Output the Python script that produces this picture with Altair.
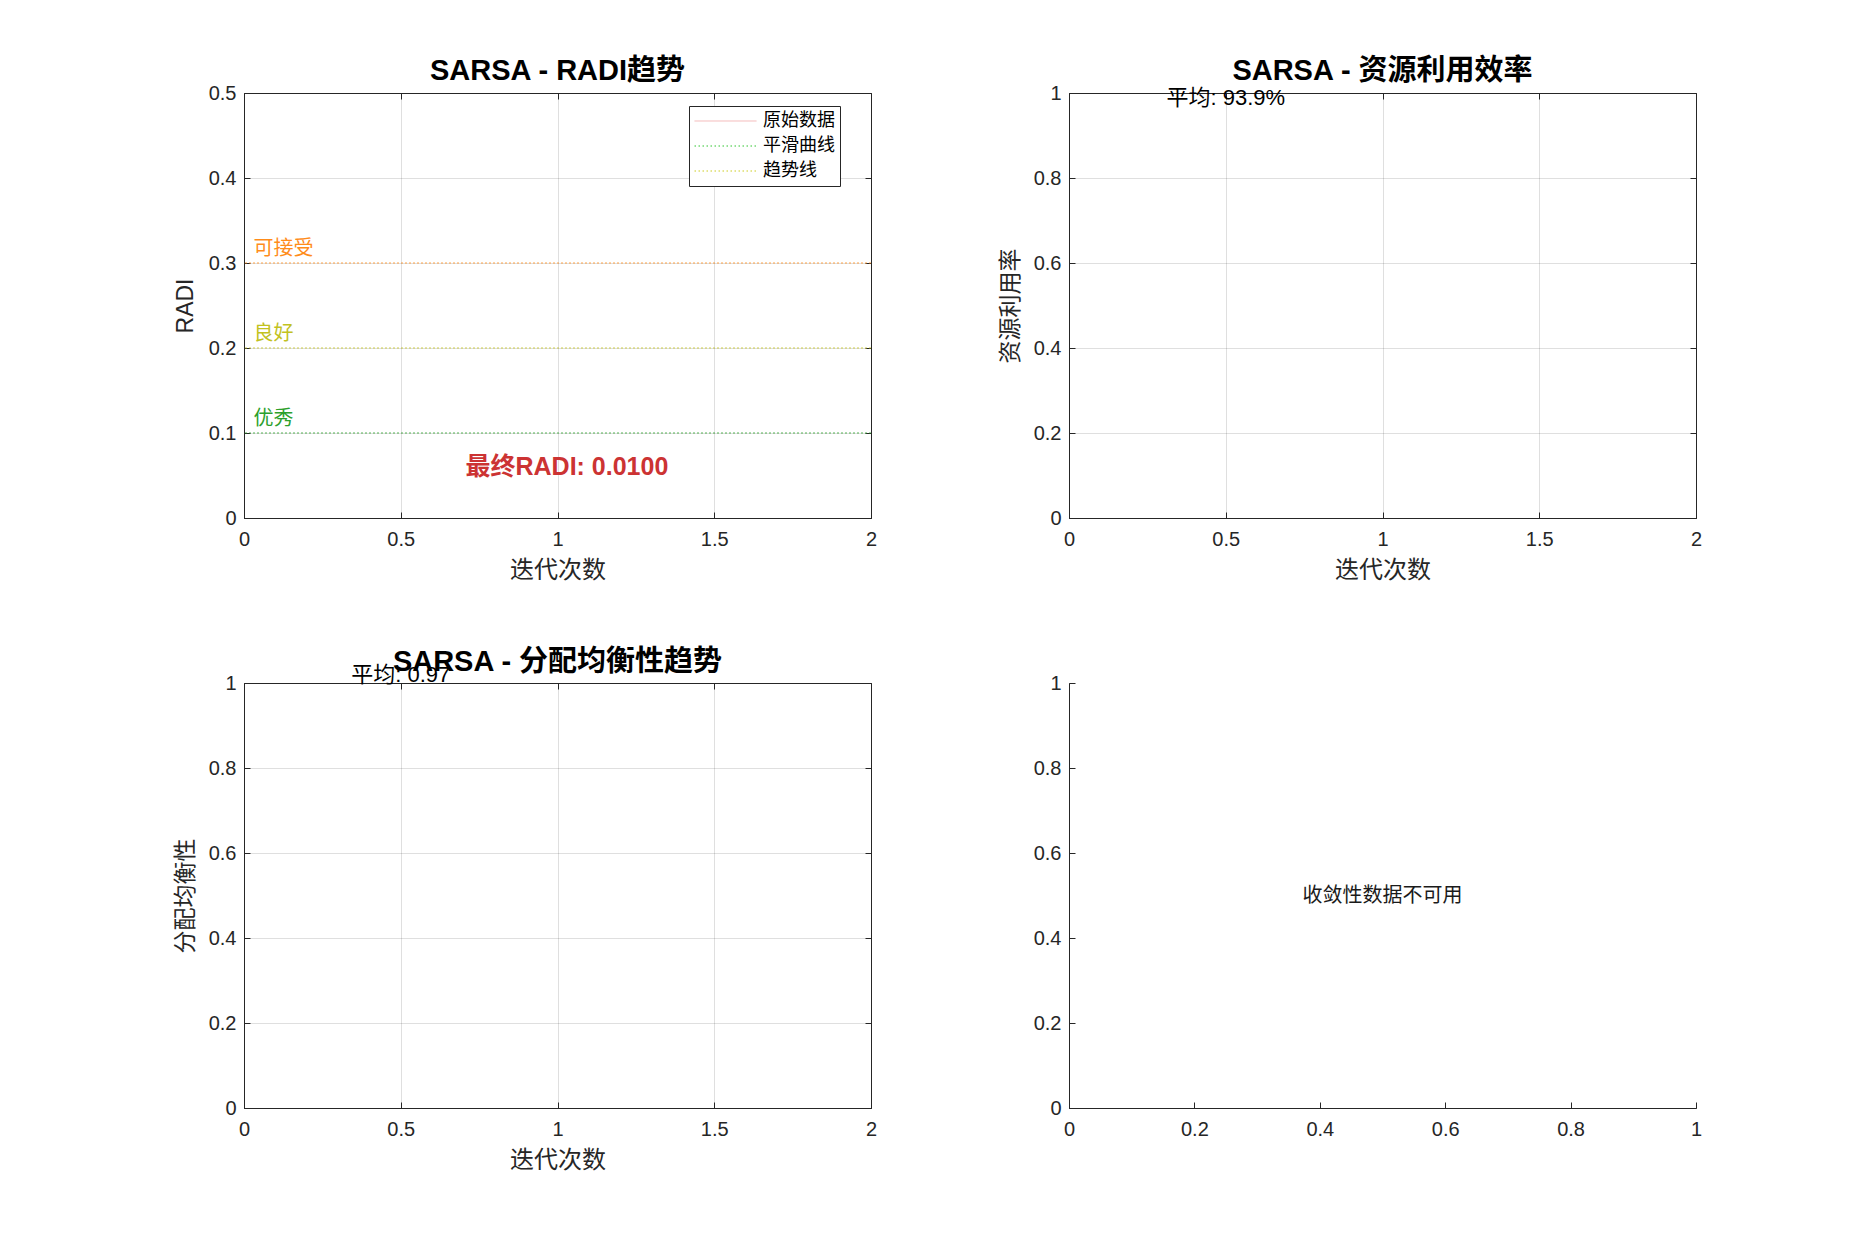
import altair as alt
import pandas as pd

# ---------------- data ----------------
iterations = [1]
radi_raw = [0.01]
radi_smooth = [0.01]
radi_trend = [0.01]
series_names = ["原始数据", "平滑曲线", "趋势线"]
series_colors = ["#f2b3b3", "#2ec42e", "#cccc1f"]
series_dashes = [[1, 0], [1.5, 2.5], [1.5, 2.5]]

threshold_values = [0.1, 0.2, 0.3]
threshold_names = ["优秀", "良好", "可接受"]
threshold_colors = ["#2ca02c", "#c2c21f", "#ff8c1a"]
threshold_label_x = [0.03, 0.03, 0.03]
threshold_label_y = [0.117, 0.217, 0.317]

final_radi_text = ["最终RADI: 0.0100"]
final_radi_x = [1.03]
final_radi_y = [0.06]

util_values = [0.939]
util_mean_text = ["平均: 93.9%"]
util_text_x = [0.5]
util_text_y = [0.989]

balance_values = [0.97]
balance_mean_text = ["平均: 0.97"]
balance_text_x = [0.5]
balance_text_y = [1.02]

conv_text = ["收敛性数据不可用"]
conv_text_x = [0.5]
conv_text_y = [0.5]

iter_ticks = [0, 0.5, 1, 1.5, 2]
radi_ticks = [0, 0.1, 0.2, 0.3, 0.4, 0.5]
unit_ticks = [0, 0.2, 0.4, 0.6, 0.8, 1]

# ---------------- style ----------------
W, H = 627, 425
TXT = "#262626"
SANS = "Liberation Sans, Arial, Noto Sans CJK SC, sans-serif"
CJK = "Noto Sans CJK SC, sans-serif"


def axis_x(title, vals, grid=True):
    kw = dict(orient="bottom", values=vals, format="~g", ticks=False, grid=grid,
              gridColor=TXT, gridOpacity=0.15, gridWidth=1, domain=True,
              domainColor=TXT, domainWidth=1, labelFont=SANS, labelFontSize=20,
              labelColor=TXT, labelPadding=11, labelFlush=False, labelOverlap=False)
    if title is None:
        kw["title"] = None
    else:
        kw.update(title=title, titleFont=SANS, titleFontSize=24, titleFontWeight="normal",
                  titleColor=TXT, titleX=W / 2, titleY=52, titleBaseline="middle",
                  titleAlign="center")
    return alt.Axis(**kw)


def axis_y(title, vals, grid=True):
    kw = dict(orient="left", values=vals, format="~g", ticks=False, grid=grid,
              gridColor=TXT, gridOpacity=0.15, gridWidth=1, domain=True,
              domainColor=TXT, domainWidth=1, labelFont=SANS, labelFontSize=20,
              labelColor=TXT, labelPadding=8, labelFlush=False, labelOverlap=False)
    if title is None:
        kw["title"] = None
    else:
        kw.update(title=title, titleFont=SANS, titleFontSize=23, titleFontWeight="normal",
                  titleColor=TXT, titleX=-59, titleY=H / 2, titleBaseline="middle",
                  titleAlign="center", titleAngle=270)
    return alt.Axis(**kw)


def tick_axis(orient, vals, offset):
    return alt.Axis(orient=orient, offset=offset, values=vals, labels=False, grid=False,
                    title=None, ticks=True, tickSize=6, tickColor=TXT, tickWidth=1,
                    domain=True, domainColor=TXT, domainWidth=1)


def tick_layers(df, xf, yf, xdom, ydom, xvals, yvals, box=True):
    low = alt.Chart(df).mark_point(opacity=0).encode(
        x=alt.X(xf, type="quantitative", scale=alt.Scale(domain=xdom),
                axis=tick_axis("top", xvals, -H)),
        y=alt.Y(yf, type="quantitative", scale=alt.Scale(domain=ydom),
                axis=tick_axis("right", yvals, -W)),
    )
    layers = [low]
    if box:
        high = alt.Chart(df).mark_point(opacity=0).encode(
            x=alt.X(xf, type="quantitative", scale=alt.Scale(domain=xdom),
                    axis=tick_axis("bottom", xvals, -H)),
            y=alt.Y(yf, type="quantitative", scale=alt.Scale(domain=ydom),
                    axis=tick_axis("left", yvals, -W)),
        )
        layers.append(high)
    return layers


def title(text, dy=0):
    return alt.TitleParams(text=text, font=SANS, fontSize=29, fontWeight="bold",
                           color="#000000", anchor="middle", frame="group",
                           offset=1, baseline="alphabetic", dy=dy)


# ---------------- panel 1: RADI ----------------
radi_df = pd.DataFrame({
    "iter": iterations * 3,
    "value": radi_raw + radi_smooth + radi_trend,
    "series": [n for n in series_names for _ in iterations],
})
thr_df = pd.DataFrame({"y": threshold_values, "name": threshold_names,
                       "c": threshold_colors, "lx": threshold_label_x,
                       "ly": threshold_label_y})
final_df = pd.DataFrame({"x": final_radi_x, "y": final_radi_y, "t": final_radi_text})

xs_iter = alt.Scale(domain=[0, 2])
ys_radi = alt.Scale(domain=[0, 0.5])

legend = alt.Legend(orient="none", legendX=445, legendY=13, title=None,
                    symbolType="stroke", symbolSize=3844, symbolStrokeWidth=1,
                    labelFont=CJK, labelFontSize=18, labelColor="#000000",
                    labelOffset=6, padding=5, rowPadding=5, clipHeight=20,
                    strokeColor=TXT, fillColor="#ffffff")

p1_lines = alt.Chart(radi_df).mark_line(strokeWidth=1.5).encode(
    x=alt.X("iter:Q", scale=xs_iter, axis=axis_x("迭代次数", iter_ticks)),
    y=alt.Y("value:Q", scale=ys_radi, axis=axis_y("RADI", radi_ticks)),
    color=alt.Color("series:N", scale=alt.Scale(domain=series_names, range=series_colors),
                    legend=legend),
    strokeDash=alt.StrokeDash("series:N",
                              scale=alt.Scale(domain=series_names, range=series_dashes),
                              legend=legend),
)
p1_rules = alt.Chart(thr_df).mark_rule(strokeDash=[2, 2], strokeWidth=1, opacity=0.8).encode(
    y=alt.Y("y:Q", scale=ys_radi, axis=None),
    stroke=alt.Stroke("c:N", scale=None),
)
p1_thr_text = alt.Chart(thr_df).mark_text(align="left", baseline="middle", font=CJK,
                                          fontSize=20).encode(
    x=alt.X("lx:Q", scale=xs_iter, axis=None),
    y=alt.Y("ly:Q", scale=ys_radi, axis=None),
    text="name:N",
    fill=alt.Fill("c:N", scale=None),
)
p1_final = alt.Chart(final_df).mark_text(align="center", baseline="middle", font=SANS,
                                         fontSize=25, fontWeight="bold",
                                         color="#cc3333").encode(
    x=alt.X("x:Q", scale=xs_iter, axis=None),
    y=alt.Y("y:Q", scale=ys_radi, axis=None),
    text="t:N",
)
p1 = alt.layer(
    p1_lines, p1_rules, p1_thr_text, p1_final,
    *tick_layers(final_df, "x", "y", [0, 2], [0, 0.5], iter_ticks, radi_ticks)
).resolve_axis(x="independent", y="independent").properties(
    width=W, height=H, title=title("SARSA - RADI趋势", dy=27))

# ---------------- panel 2: utilisation ----------------
util_df = pd.DataFrame({"iter": iterations, "value": util_values})
util_t = pd.DataFrame({"x": util_text_x, "y": util_text_y, "t": util_mean_text})
ys_unit = alt.Scale(domain=[0, 1])

p2_line = alt.Chart(util_df).mark_line(strokeWidth=1.5, color="#1f77b4").encode(
    x=alt.X("iter:Q", scale=xs_iter, axis=axis_x("迭代次数", iter_ticks)),
    y=alt.Y("value:Q", scale=ys_unit, axis=axis_y("资源利用率", unit_ticks)),
)
p2_text = alt.Chart(util_t).mark_text(align="center", baseline="middle", font=SANS,
                                      fontSize=22, color="#000000").encode(
    x=alt.X("x:Q", scale=xs_iter, axis=None),
    y=alt.Y("y:Q", scale=ys_unit, axis=None),
    text="t:N",
)
p2 = alt.layer(
    p2_line, p2_text,
    *tick_layers(util_t, "x", "y", [0, 2], [0, 1], iter_ticks, unit_ticks)
).resolve_axis(x="independent", y="independent").properties(
    width=W, height=H, title=title("SARSA - 资源利用效率", dy=27))

# ---------------- panel 3: balance ----------------
bal_df = pd.DataFrame({"iter": iterations, "value": balance_values})
bal_t = pd.DataFrame({"x": balance_text_x, "y": balance_text_y, "t": balance_mean_text})

p3_line = alt.Chart(bal_df).mark_line(strokeWidth=1.5, color="#1f77b4").encode(
    x=alt.X("iter:Q", scale=xs_iter, axis=axis_x("迭代次数", iter_ticks)),
    y=alt.Y("value:Q", scale=ys_unit, axis=axis_y("分配均衡性", unit_ticks)),
)
p3_text = alt.Chart(bal_t).mark_text(align="center", baseline="middle", font=SANS,
                                     fontSize=22, color="#000000").encode(
    x=alt.X("x:Q", scale=xs_iter, axis=None),
    y=alt.Y("y:Q", scale=ys_unit, axis=None),
    text="t:N",
)
p3 = alt.layer(
    p3_line, p3_text,
    *tick_layers(bal_t, "x", "y", [0, 2], [0, 1], iter_ticks, unit_ticks)
).resolve_axis(x="independent", y="independent").properties(
    width=W, height=H, title=title("SARSA - 分配均衡性趋势", dy=37))

# ---------------- panel 4: convergence (no data) ----------------
conv_df = pd.DataFrame({"x": conv_text_x, "y": conv_text_y, "t": conv_text})
xs_unit = alt.Scale(domain=[0, 1])
p4_text = alt.Chart(conv_df).mark_text(align="center", baseline="middle", font=CJK,
                                       fontSize=20, color="#1a1a1a").encode(
    x=alt.X("x:Q", scale=xs_unit, axis=axis_x(None, unit_ticks, grid=False)),
    y=alt.Y("y:Q", scale=ys_unit, axis=axis_y(None, unit_ticks, grid=False)),
    text="t:N",
)
p4 = alt.layer(
    p4_text,
    *tick_layers(conv_df, "x", "y", [0, 1], [0, 1], unit_ticks, unit_ticks, box=False)
).resolve_axis(x="independent", y="independent").properties(width=W, height=H)

# ---------------- layout ----------------
chart = alt.concat(p1, p2, p3, p4, columns=2, spacing={"row": 165, "column": 198},
                   bounds="flush").properties(
    padding={"left": 244, "top": 93, "right": 1631, "bottom": 1152},
    autosize=alt.AutoSizeParams(type="none"),
    background="#ffffff",
).configure_view(strokeWidth=0)

chart.save("out.html", embed_options={"renderer": "svg", "actions": False})
